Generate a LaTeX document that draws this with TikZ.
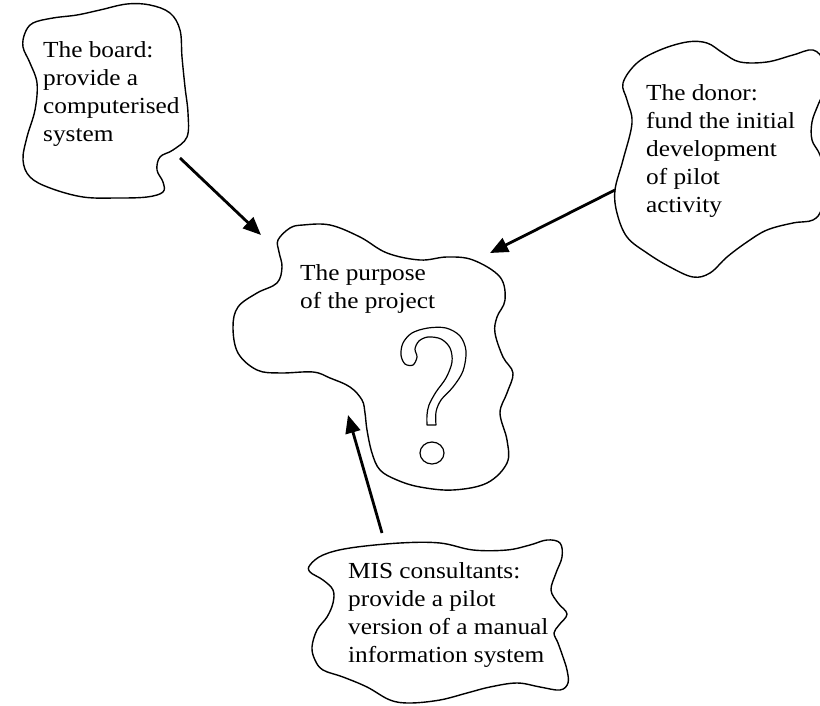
\documentclass[tikz,border=0pt]{standalone}
\usepackage{fontspec}
\setmainfont{Liberation Serif}[FakeStretch=1.1]
\usetikzlibrary{arrows.meta}
\begin{document}
\begin{tikzpicture}[x=1pt,y=-1pt,
  blob/.style={line width=1.4pt, line join=round},
  % anchored at the baseline of the last line
  lbl/.style={anchor=base west, align=left, inner sep=0pt,
              font=\fontsize{23}{28}\selectfont},
  flow/.style={line width=2.8pt, -{Triangle[length=18pt,width=15pt]}},
  qmark/.style={line width=1.2pt, line join=round}]
\useasboundingbox (0,0) rectangle (820,706);
\clip (0,0) rectangle (820,706);

% --- cloud: the board ---
\draw[blob] plot[smooth cycle, tension=0.6] coordinates {
  (25,33) (33,23) (53,18) (77,15) (100,10) (127,4) (150,5) (170,13)
  (180,30) (182,57) (185,87) (188,113) (187,137) (173,150) (160,157)
  (157,170) (163,182) (163,192) (147,197) (117,198) (83,197) (50,188)
  (30,177) (23,160) (27,137) (35,110) (37,83) (30,63) (23,47)};
\node[lbl] (board) at (43,142) {The board:\\provide a\\computerised\\system};

% --- cloud: the donor (runs past the right edge) ---
\draw[blob] plot[smooth cycle, tension=0.6] coordinates {
  (623,83) (637,63) (660,50) (687,42) (707,43) (723,53) (740,62)
  (767,62) (793,55) (813,50) (824,62) (826,85) (818,105) (812,122)
  (812,140) (820,155) (827,180) (822,208) (813,220) (793,223) (767,230)
  (747,242) (727,257) (710,273) (693,277) (670,267) (647,253) (627,237)
  (617,213) (615,190) (623,160) (632,123) (627,100)};
\node[lbl] (donor) at (646,213) {The donor:\\fund the initial\\development\\of pilot\\activity};

% --- cloud: the purpose of the project ---
\draw[blob] plot[smooth cycle, tension=0.6] coordinates {
  (278,240) (290,228) (303,225) (330,225) (360,237) (387,253) (420,260)
  (447,257) (473,260) (500,277) (505,300) (497,317) (495,333) (503,357)
  (513,373) (507,393) (500,413) (507,440) (507,463) (487,483) (453,490)
  (420,487) (397,480) (380,470) (372,453) (367,430) (365,413) (362,400)
  (350,387) (330,378) (313,372) (280,373) (257,370) (238,353) (233,327)
  (238,307) (257,293) (277,283) (282,267) (279,252)};
\node[lbl] (purpose) at (300,308) {The purpose\\of the project};

% outlined question mark inside the purpose cloud
\draw[qmark] plot[smooth, tension=0.55] coordinates {
  (436,425) (436,412) (441,400) (453,387) (463,371) (466,351) (460,336)
  (446,328) (428,328) (412,333) (403,343) (401,355) (405,364) (413,365)
  (417,357) (415,349) (419,341) (428,337) (441,339) (450,348) (452,362)
  (446,378) (436,392) (429,405) (427,415) (427,425)} -- cycle;
\draw[qmark] (432,453) ellipse [x radius=12, y radius=11];

% --- cloud: MIS consultants ---
\draw[blob] plot[smooth cycle, tension=0.6] coordinates {
  (310,565) (323,555) (350,548) (400,543) (440,543) (473,550) (507,550)
  (530,545) (547,540) (560,543) (562,557) (556,573) (551,590) (558,603)
  (567,614) (559,625) (554,633) (558,643) (563,657) (567,670) (568,683)
  (560,690) (540,687) (517,683) (490,687) (467,693) (440,700) (410,703)
  (390,700) (367,687) (343,677) (323,670) (315,660) (312,647) (317,630)
  (327,617) (333,603) (333,590) (323,580) (310,572)};
\node[lbl] (mis) at (348,662) {MIS consultants:\\provide a pilot\\version of a manual\\information system};

% --- arrows towards the purpose cloud ---
\coordinate (boardtail) at (180,158);
\coordinate (boardtip)  at (261,235);
\coordinate (donortail) at (615,190);
\coordinate (donortip)  at (490,253);
\coordinate (mistail)   at (382,533);
\coordinate (mistip)    at (348,415);
\draw[flow] (boardtail) -- (boardtip);
\draw[flow] (donortail) -- (donortip);
\draw[flow] (mistail) -- (mistip);
\end{tikzpicture}
\end{document}
